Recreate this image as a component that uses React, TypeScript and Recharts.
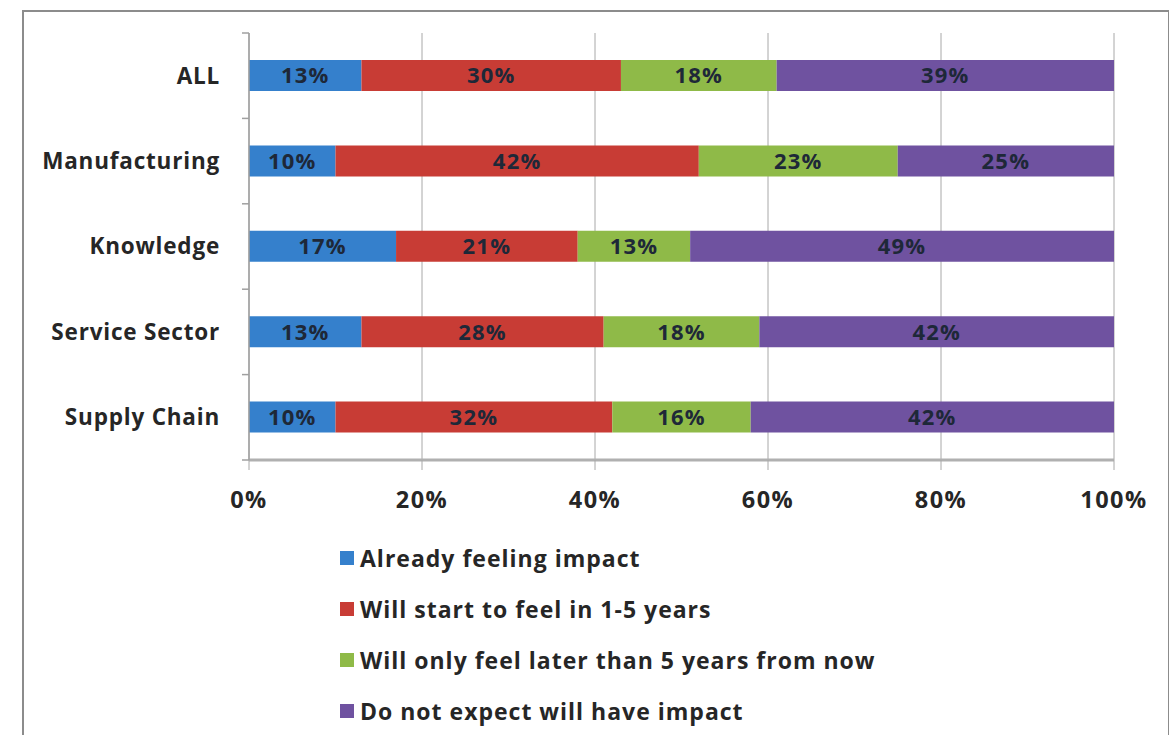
import React from "react";
import { BarChart, Bar, XAxis, YAxis, CartesianGrid, Legend, LabelList } from "recharts";

const categories = ["ALL", "Manufacturing", "Knowledge", "Service Sector", "Supply Chain"];
const alreadyFeeling = [13, 10, 17, 13, 10];
const startIn1to5 = [30, 42, 21, 28, 32];
const laterThan5 = [18, 23, 13, 18, 16];
const noImpact = [39, 25, 49, 42, 42];
const xTicks = [0, 20, 40, 60, 80, 100];

const seriesNames = [
  "Already feeling impact",
  "Will start to feel in 1-5 years",
  "Will only feel later than 5 years from now",
  "Do not expect will have impact",
];
const seriesColors = ["#3580cc", "#c83c35", "#8fba48", "#6f52a0"];
const seriesKeys = ["already", "soon", "later", "never"];

const data = categories.map((c, i) => ({
  name: c,
  already: alreadyFeeling[i],
  soon: startIn1to5[i],
  later: laterThan5[i],
  never: noImpact[i],
}));

const FONT = "'Open Sans', Lato, sans-serif";
const TEXT = "#262626";

const YTick = (props: any) => {
  const { x, y, payload, index } = props;
  const half = payload && payload.offset ? payload.offset : 42.7;
  const ax = x + 29;
  return (
    <g>
      <text x={x} y={y} dy="0.35em" textAnchor="end" fontFamily={FONT} fontWeight={700} fontSize={22.5} fill={TEXT} style={{ letterSpacing: "0.8px" }}>
        {payload.value}
      </text>
      <line x1={ax - 7} x2={ax} y1={y - half} y2={y - half} stroke="#a0a0a0" strokeWidth={1.5} />
      {index === categories.length - 1 ? (
        <line x1={ax - 7} x2={ax} y1={y + half} y2={y + half} stroke="#a0a0a0" strokeWidth={1.5} />
      ) : null}
    </g>
  );
};

const LegendContent = () => (
  <div style={{ fontFamily: FONT, fontWeight: 700, fontSize: 23, color: TEXT, letterSpacing: "1px" }}>
    {seriesNames.map((n, i) => (
      <div key={n} style={{ display: "flex", alignItems: "center", height: 51 }}>
        <span style={{ display: "inline-block", width: 14, height: 14, background: seriesColors[i], marginRight: 6 }} />
        <span>{n}</span>
      </div>
    ))}
  </div>
);

export default function App() {
  return (
    <div style={{ position: "absolute", left: 0, top: 0, width: 1169, height: 735, overflow: "hidden", background: "#fff" }}>
      <BarChart
        width={1169}
        height={735}
        data={data}
        layout="vertical"
        margin={{ top: 33, right: 55, left: 0, bottom: 215 }}
        barSize={31}
      >
        <CartesianGrid horizontal={false} vertical={true} stroke="#a8a8a8" strokeWidth={1} />
        <XAxis
          type="number"
          domain={[0, 100]}
          allowDataOverflow
          ticks={xTicks}
          tickFormatter={(v: number) => `${v}%`}
          axisLine={{ stroke: "#b0b0b0", strokeWidth: 3 }}
          tickLine={{ stroke: "#a8a8a8" }}
          tickSize={10}
          tickMargin={21}
          height={60}
          tick={{ fontFamily: FONT, fontWeight: 700, fontSize: 23.5, fill: TEXT, style: { letterSpacing: "1.5px" } }}
        />
        <YAxis
          type="category"
          dataKey="name"
          width={249}
          axisLine={{ stroke: "#a0a0a0", strokeWidth: 1.5 }}
          tickLine={false}
          tickSize={0}
          tickMargin={29}
          tick={<YTick />}
          interval={0}
        />
        <Legend
          layout="vertical"
          align="center"
          verticalAlign="middle"
          wrapperStyle={{ left: 340, top: 532, width: 760 }}
          content={<LegendContent />}
        />
        {seriesKeys.map((k, i) => (
          <Bar key={k} dataKey={k} name={seriesNames[i]} stackId="a" fill={seriesColors[i]} isAnimationActive={false}>
            <LabelList
              dataKey={k}
              position="center"
              formatter={(v: any) => `${v}%`}
              style={{ fontFamily: FONT, fontWeight: 700, fontSize: 22, fill: "#1e2838", letterSpacing: "1.2px" }}
            />
          </Bar>
        ))}
      </BarChart>
      <div
        style={{
          position: "absolute",
          left: 22,
          top: 10,
          width: 1144,
          height: 800,
          border: "2px solid #8c8c8c",
          pointerEvents: "none",
        }}
      />
    </div>
  );
}
